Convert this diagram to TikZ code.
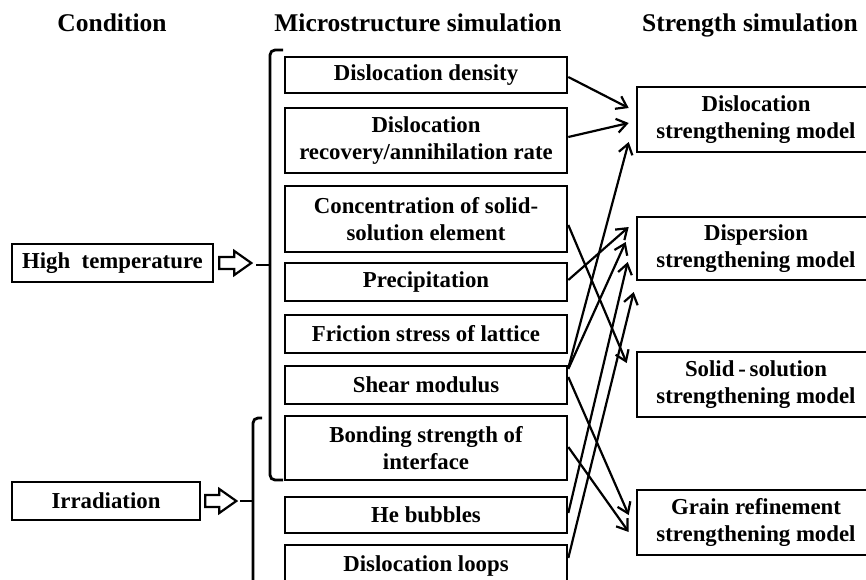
\documentclass[tikz,border=0pt]{standalone}
\usepackage{fontspec}
\setmainfont{Liberation Serif}
\usetikzlibrary{arrows.meta,calc}
\newcommand\bxfont{\fontsize{22.8}{27}\selectfont\bfseries}
\newcommand\hdfont{\fontsize{25.5}{30}\selectfont\bfseries}
\begin{document}
\begin{tikzpicture}[x=1pt,y=-1pt,
  box/.style={draw,line width=2.6pt,inner sep=0pt,align=center,font=\bxfont},
  hd/.style={font=\hdfont,inner sep=0pt,anchor=base},
  arr/.style={line width=2.2pt,-{Straight Barb[length=10pt,width=14pt,line width=2.2pt]}},
  hollow/.style={line width=2.2pt,line join=miter},
  brk/.style={line width=2.8pt,rounded corners=5pt},
  tick/.style={line width=2.8pt}]
\useasboundingbox (0,0) rectangle (866,579);
\clip (0,0) rectangle (866,579);
\fill[white] (0,0) rectangle (866,579);
% headers
\node[hd] (h1) at (112,31) {Condition};
\node[hd] (h2) at (418,31) {Microstructure simulation};
\node[hd] (h3) at (750,31) {Strength simulation};
% left boxes
\node[box,minimum width=201,minimum height=38] (ht) at (112.5,263) {High\ \ temperature};
\node[box,minimum width=188,minimum height=38] (ir) at (106,501) {Irradiation};
% middle boxes
\node[box,minimum width=282,minimum height=36] (m1) at (426,75) {Dislocation density};
\node[box,minimum width=282,minimum height=65] (m2) at (426,140.5) {Dislocation\\recovery/annihilation rate};
\node[box,minimum width=282,minimum height=66] (m3) at (426,219) {Concentration of solid-\\solution element};
\node[box,minimum width=282,minimum height=38] (m4) at (426,282) {Precipitation};
\node[box,minimum width=282,minimum height=38] (m5) at (426,334) {Friction stress of lattice};
\node[box,minimum width=282,minimum height=38] (m6) at (426,385) {Shear modulus};
\node[box,minimum width=282,minimum height=64] (m7) at (426,448) {Bonding strength of\\interface};
\node[box,minimum width=282,minimum height=36] (m8) at (426,515) {He bubbles};
\node[box,minimum width=282,minimum height=42] (m9) at (426,566) {Dislocation loops};
% right boxes
\node[box,minimum width=238,minimum height=65] (A) at (756,119.5) {Dislocation\\strengthening model};
\node[box,minimum width=238,minimum height=63] (B) at (756,248.5) {Dispersion\\strengthening model};
\node[box,minimum width=238,minimum height=65] (C) at (756,384.5) {Solid\,-\,solution\\strengthening model};
\node[box,minimum width=238,minimum height=65] (D) at (756,522.5) {Grain refinement\\strengthening model};
% braces
\coordinate (b1) at (270,265);
\coordinate (b2) at (253,501);
\draw[brk] (283,50) -- (270,50) -- (270,480) -- (283,480);
\draw[tick] ($(b1)+(-14,0)$) -- (b1);
\draw[brk] (262,418) -- (253,418) -- (253,600);
\draw[tick] ($(b2)+(-13,0)$) -- (b2);
% hollow arrows
\draw[hollow] ($(ht.east)+(5,-6)$) -- ++(15,0) -- ++(0,-6) -- ++(17,12) -- ++(-17,12) -- ++(0,-6) -- ++(-15,0) -- cycle;
\draw[hollow] ($(ir.east)+(4,-6)$) -- ++(14,0) -- ++(0,-6) -- ++(17,12) -- ++(-17,12) -- ++(0,-6) -- ++(-14,0) -- cycle;
% connectors
\draw[arr] ($(m1.east)+(0,2)$) -- ($(A.west)+(-7,-11.5)$);
\draw[arr] ($(m2.east)+(0,-3.5)$) -- ($(A.west)+(-7,3.5)$);
\draw[arr] ($(m6.east)+(0,-17)$) -- ($(A.west)+(-7,22.5)$);
\draw[arr] ($(m3.east)+(0,6)$) -- ($(C.west)+(-9,-21.5)$);
\draw[arr] ($(m4.east)+(0,-2)$) -- ($(B.west)+(-7,-21.5)$);
\draw[arr] ($(m6.east)+(0,-16)$) -- ($(B.west)+(-10,-6.5)$);
\draw[arr] ($(m8.east)+(0,-2)$) -- ($(B.west)+(-8,13.5)$);
\draw[arr] ($(m9.east)+(0,-8)$) -- ($(B.west)+(-2,43.5)$);
\draw[arr] ($(m6.east)+(0,-8)$) -- ($(D.west)+(-7,-7.5)$);
\draw[arr] ($(m7.east)+(0,-1)$) -- ($(D.west)+(-7,9.5)$);
\end{tikzpicture}
\end{document}
